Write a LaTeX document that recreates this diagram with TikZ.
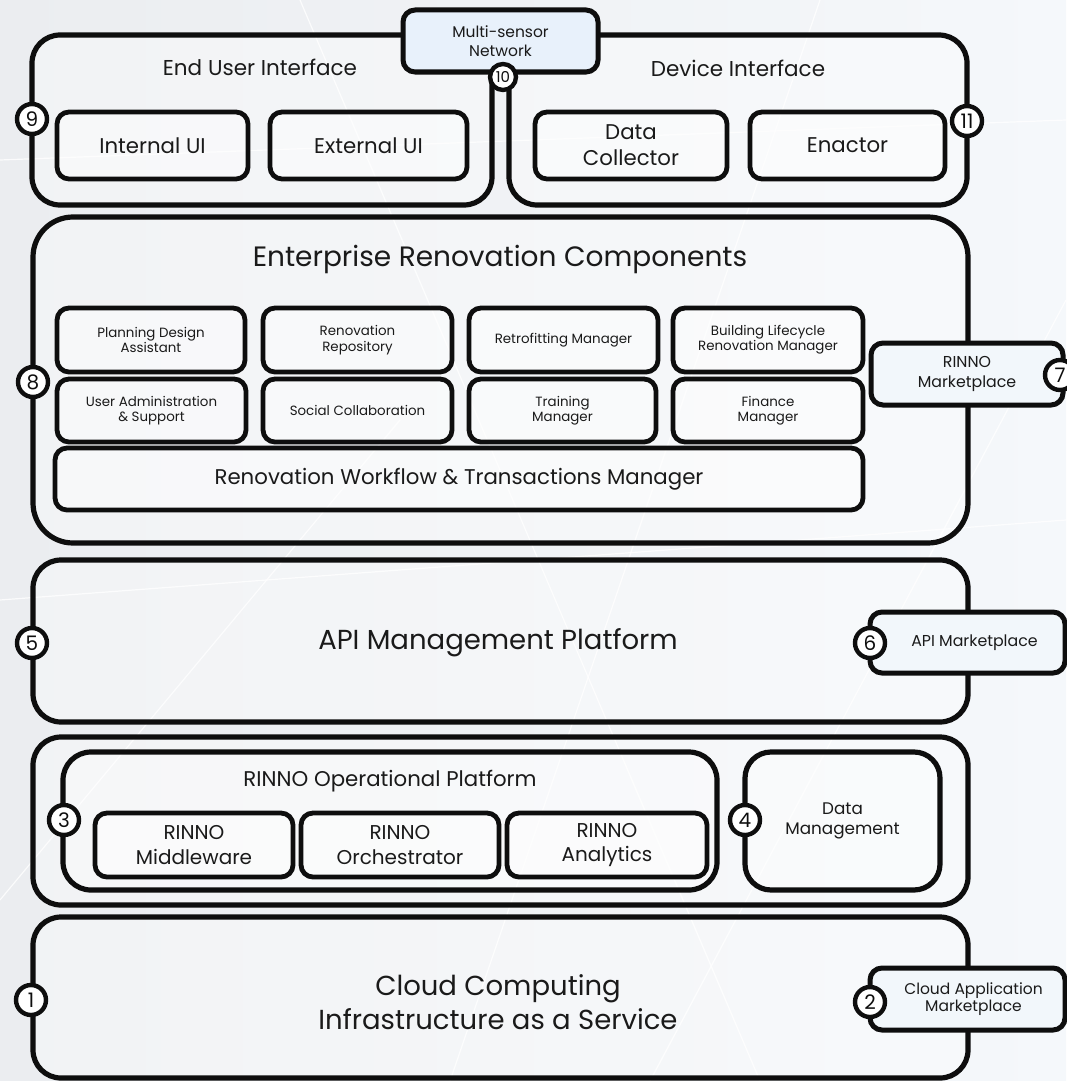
\documentclass[tikz,border=0pt]{standalone}
\usepackage{fontspec}
\setmainfont{Poppins}
\definecolor{bgA}{HTML}{EBEDF0}
\definecolor{bgB}{HTML}{F5F8FB}
\definecolor{ink}{HTML}{0E0E0E}
\definecolor{txt}{HTML}{1A1A1A}
\definecolor{sensor}{HTML}{E8F1FB}
\definecolor{mktfill}{HTML}{F2F7FB}
\newcommand{\fs}[1]{\fontsize{#1pt}{\dimexpr #1pt*122/100\relax}\selectfont}
\newcommand{\placebox}[7]{%
  \node[#1, minimum width={#5-#3}, minimum height={#6-#4}] (#2) at ({(#3+#5)/2},{(#4+#6)/2}) {#7};}
\tikzset{
  bigbox/.style={draw=ink, line width=5.2pt, rounded corners=28pt, fill=white, fill opacity=0.35, text opacity=1, inner sep=0pt},
  subbox/.style={draw=ink, line width=4.8pt, rounded corners=12pt, fill=white, fill opacity=0.45, text opacity=1, align=center, text=txt, inner sep=0pt},
  sensorbox/.style={draw=ink, line width=5pt, rounded corners=12pt, fill=sensor, align=center, text=txt, inner sep=0pt},
  mktbox/.style={draw=ink, line width=5pt, rounded corners=12pt, fill=mktfill, align=center, text=txt, inner sep=0pt},
  num/.style={circle, draw=ink, line width=4.4pt, fill=white, minimum size=30pt, inner sep=0pt, text=ink, font=\fs{20}},
  smallnum/.style={num, minimum size=26pt, font=\fs{15}},
  ttl/.style={text=txt, align=center, inner sep=0pt},
  bgline/.style={draw=white, line width=1.2pt, opacity=0.8}
}
\begin{document}
\begin{tikzpicture}[x=1pt,y=-1pt]
\useasboundingbox (0,0) rectangle (1066,1081);
\shade[left color=bgA, right color=bgB] (0,0) rectangle (1066,1081);
% faint background texture
\draw[bgline] (0,160) -- (1066,120);
\draw[bgline] (300,0) -- (760,1081);
\draw[bgline] (820,0) -- (450,1081);
\draw[bgline] (0,600) -- (1066,520);
\draw[bgline] (1066,300) -- (650,1081);
\draw[bgline] (0,900) -- (400,420);

% ---------- top row ----------
\placebox{bigbox}{eui}{32}{35}{492}{205}{}
\placebox{bigbox}{devi}{509}{35}{967}{205}{}
\node[ttl, font=\fs{21.5}] (euit) at (260,67) {End User Interface};
\node[ttl, font=\fs{21.5}] (devit) at (738,68) {Device Interface};
\placebox{subbox, font=\fs{21.3}}{intui}{57}{112}{248}{179}{Internal UI}
\placebox{subbox, font=\fs{21.3}}{extui}{270}{112}{467}{179}{External UI}
\placebox{subbox, font=\fs{21.3}}{dcol}{535}{112}{727}{179}{Data\\Collector}
\placebox{subbox, font=\fs{21.3}}{enac}{750}{112}{945}{179}{Enactor}
\placebox{sensorbox, font=\fs{15.5}}{msn}{403}{10}{598}{72}{Multi-sensor\\Network}

% ---------- enterprise ----------
\placebox{bigbox, rounded corners=40pt}{erc}{33}{217}{968}{543}{}
\node[ttl, font=\fs{28}] (erct) at (500,259) {Enterprise Renovation Components};
\placebox{subbox, font=\fs{13.4}}{pda}{57}{308}{245}{372}{Planning Design\\[-1pt]Assistant}
\placebox{subbox, font=\fs{13.4}}{rrep}{263}{308}{452}{372}{Renovation\\[-1pt]Repository}
\placebox{subbox, font=\fs{13.4}}{retm}{469}{308}{658}{372}{Retrofitting Manager}
\placebox{subbox, font=\fs{13.4}}{blrm}{673}{308}{863}{372}{Building Lifecycle\\[-1pt]Renovation Manager}
\placebox{subbox, font=\fs{13.4}}{uas}{57}{379}{246}{442}{User Administration\\[-1pt]\& Support}
\placebox{subbox, font=\fs{13.4}}{socc}{263}{379}{452}{442}{Social Collaboration}
\placebox{subbox, font=\fs{13.4}}{trm}{469}{379}{656}{442}{Training\\[-1pt]Manager}
\placebox{subbox, font=\fs{13.4}}{finm}{673}{379}{863}{442}{Finance\\[-1pt]Manager}
\placebox{subbox, font=\fs{21.3}}{rwtm}{55}{448}{863}{510}{Renovation Workflow \& Transactions Manager}
\placebox{mktbox, font=\fs{15.8}}{rmkt}{871}{343}{1063}{405}{RINNO\\Marketplace}

% ---------- API ----------
\placebox{bigbox}{apim}{33}{560}{968}{722}{}
\node[ttl, font=\fs{27.5}] (apimt) at (498,643) {API Management Platform};
\placebox{mktbox, font=\fs{15.8}}{amkt}{870}{612}{1065}{673}{\hspace*{14pt}API Marketplace}

% ---------- operational ----------
\placebox{bigbox}{opl}{33}{737}{968}{905}{}
\placebox{bigbox}{rop}{63}{752}{717}{890}{}
\node[ttl, font=\fs{21.3}] (ropt) at (390,781) {RINNO Operational Platform};
\placebox{subbox, font=\fs{20}}{rmid}{95}{813}{293}{877}{RINNO\\Middleware}
\placebox{subbox, font=\fs{20}}{rorc}{301}{813}{499}{877}{RINNO\\Orchestrator}
\placebox{subbox, font=\fs{20}}{rana}{507}{813}{707}{877}{RINNO\\Analytics}
\placebox{bigbox, rounded corners=26pt, align=center, text=txt, font=\fs{16.8}}{dman}{745}{752}{940}{890}{Data\\Management}

% ---------- cloud ----------
\placebox{bigbox}{cci}{33}{917}{968}{1078}{}
\node[ttl, font=\fs{27.5}] (ccit) at (498,1002) {Cloud Computing\\Infrastructure as a Service};
\placebox{mktbox, font=\fs{15.5}}{camkt}{870}{968}{1065}{1030}{\hspace*{12pt}\begin{tabular}{@{}c@{}}Cloud Application\\[-2pt]Marketplace\end{tabular}}

% ---------- numbered circles ----------
\node[num] (n1) at (31,1000) {1};
\node[num] (n2) at (870,1002) {2};
\node[num] (n3) at (64,820) {3};
\node[num] (n4) at (745,820) {4};
\node[num] (n5) at (32,643) {5};
\node[num] (n6) at (870,643) {6};
\node[num] (n7) at (1060,375) {7};
\node[num] (n8) at (33,382) {8};
\node[num] (n9) at (32,119) {9};
\node[smallnum] (n10) at (503,77) {10};
\node[num] (n11) at (967,121) {11};
\end{tikzpicture}
\end{document}
